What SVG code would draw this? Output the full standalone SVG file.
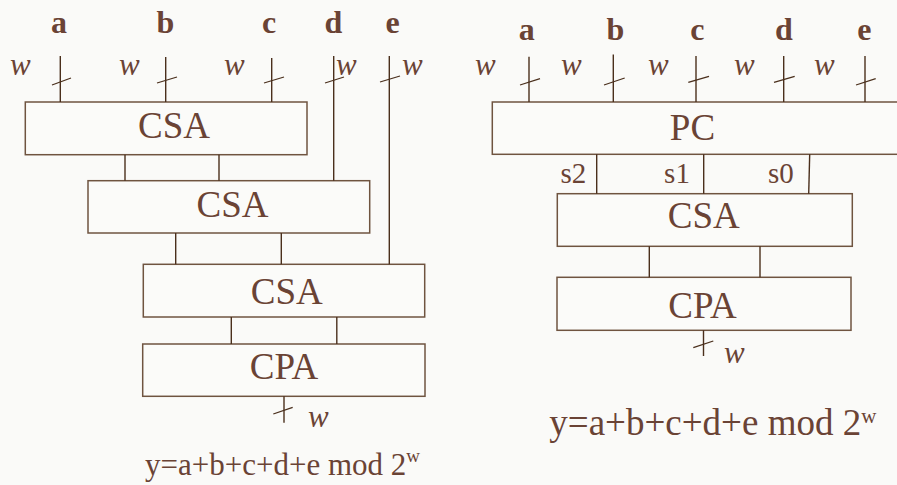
<svg xmlns="http://www.w3.org/2000/svg" width="897" height="485" viewBox="0 0 897 485">
  <style>
    .bg { fill: #fafaf8; }
    .box { fill: #fbfbf9; stroke: #6f5440; stroke-width: 1.5; }
    .wire { stroke: #4a2f1c; stroke-width: 1.4; fill: none; }
    .tick { stroke: #4a2f1c; stroke-width: 1.3; }
    .name { font-family: "Liberation Serif", "Times New Roman", serif; font-size: 37px; fill: #6a4335; text-anchor: middle; }
    .sig { font-family: "Liberation Serif", "Times New Roman", serif; font-size: 32px; font-weight: bold; fill: #6a4335; text-anchor: middle; }
    .width { font-family: "Liberation Serif", "Times New Roman", serif; font-size: 31px; font-style: italic; fill: #6a4335; }
    .sum { font-family: "Liberation Serif", "Times New Roman", serif; font-size: 29px; fill: #6a4335; text-anchor: middle; }
    .eq { font-family: "Liberation Serif", "Times New Roman", serif; fill: #6a4335; }
  </style>
  <rect class="bg" x="0" y="0" width="897" height="485"/>

  <!-- Left: CSA tree with carry-propagate adder -->
  <g id="inputs-left">
    <text class="sig" x="59" y="33">a</text>
    <text class="sig" x="165.5" y="33">b</text>
    <text class="sig" x="269" y="33">c</text>
    <text class="sig" x="333.5" y="33">d</text>
    <text class="sig" x="392.5" y="33">e</text>
    <text class="width" x="10" y="75">w</text>
    <text class="width" x="119" y="75">w</text>
    <text class="width" x="224" y="75">w</text>
    <text class="width" x="336" y="75">w</text>
    <text class="width" x="402" y="75">w</text>
  </g>

  <g id="csa1">
    <rect class="box" x="25.3" y="102" width="281.7" height="52.7"/>
    <text class="name" x="174" y="138">CSA</text>
  </g>
  <g id="csa2">
    <rect class="box" x="88" y="180.7" width="281.7" height="52.3"/>
    <text class="name" x="232.5" y="217">CSA</text>
  </g>
  <g id="csa3">
    <rect class="box" x="143.3" y="264.3" width="281.4" height="52.7"/>
    <text class="name" x="286.7" y="304">CSA</text>
  </g>
  <g id="cpa-left">
    <rect class="box" x="142.7" y="344" width="282.3" height="52.3"/>
    <text class="name" x="284" y="379.3">CPA</text>
  </g>
  <g id="out-left">
    <text class="width" x="308" y="427">w</text>
    <text class="eq" x="145" y="475" font-size="31px">y=a+b+c+d+e mod 2<tspan font-size="19px" dy="-13">w</tspan></text>
  </g>

  <!-- Right: parallel counter, CSA, carry-propagate adder -->
  <g id="inputs-right">
    <text class="sig" x="526.7" y="40">a</text>
    <text class="sig" x="615.3" y="40">b</text>
    <text class="sig" x="697.3" y="40">c</text>
    <text class="sig" x="784" y="40">d</text>
    <text class="sig" x="864.3" y="40">e</text>
    <text class="width" x="475" y="75">w</text>
    <text class="width" x="561" y="75">w</text>
    <text class="width" x="648" y="75">w</text>
    <text class="width" x="734" y="75">w</text>
    <text class="width" x="814" y="75">w</text>
  </g>

  <g id="pc">
    <rect class="box" x="492.3" y="102" width="420" height="52.3"/>
    <text class="name" x="692.5" y="140">PC</text>
    <text class="sum" x="573.3" y="183.3">s2</text>
    <text class="sum" x="677" y="183.3">s1</text>
    <text class="sum" x="780.8" y="183.3">s0</text>
  </g>
  <g id="csa-right">
    <rect class="box" x="557.3" y="193.7" width="295" height="52.6"/>
    <text class="name" x="703.8" y="228.3">CSA</text>
  </g>
  <g id="cpa-right">
    <rect class="box" x="557" y="277.3" width="294" height="53"/>
    <text class="name" x="702.5" y="318.3">CPA</text>
  </g>
  <g id="out-right">
    <text class="width" x="724" y="363">w</text>
    <text class="eq" x="549.3" y="435" font-size="37px">y=a+b+c+d+e mod 2<tspan font-size="21px" dy="-12">w</tspan></text>
  </g>

  <g id="connectors">
    <!-- left inputs -->
    <line class="wire" x1="60.3" y1="56" x2="60.3" y2="102"/>
    <line class="wire" x1="165.7" y1="57" x2="165.7" y2="102"/>
    <line class="wire" x1="271.7" y1="58" x2="271.7" y2="102"/>
    <line class="wire" x1="333.7" y1="56" x2="333.7" y2="180.7"/>
    <line class="wire" x1="389.3" y1="56" x2="389.3" y2="264.3"/>
    <line class="tick" x1="52" y1="85" x2="71" y2="78"/>
    <line class="tick" x1="157" y1="83" x2="177" y2="77"/>
    <line class="tick" x1="264" y1="83" x2="284" y2="77"/>
    <line class="tick" x1="325" y1="83" x2="344" y2="77"/>
    <line class="tick" x1="380" y1="82" x2="400" y2="76"/>
    <!-- left stage links -->
    <line class="wire" x1="125" y1="154.7" x2="125" y2="180.7"/>
    <line class="wire" x1="219" y1="154.7" x2="219" y2="180.7"/>
    <line class="wire" x1="175.7" y1="233" x2="175.7" y2="264.3"/>
    <line class="wire" x1="281.3" y1="233" x2="281.3" y2="264.3"/>
    <line class="wire" x1="231.3" y1="317" x2="231.3" y2="344"/>
    <line class="wire" x1="336.8" y1="317" x2="336.8" y2="344"/>
    <line class="wire" x1="284" y1="396.3" x2="284" y2="422.7"/>
    <line class="tick" x1="273.3" y1="414" x2="292.7" y2="407.3"/>

    <!-- right inputs -->
    <line class="wire" x1="529" y1="56.7" x2="529" y2="102"/>
    <line class="wire" x1="613.3" y1="54.5" x2="613.3" y2="102"/>
    <line class="wire" x1="696" y1="56" x2="696" y2="102"/>
    <line class="wire" x1="783.7" y1="56" x2="783.7" y2="102"/>
    <line class="wire" x1="865" y1="56" x2="865" y2="102"/>
    <line class="tick" x1="520" y1="85" x2="540" y2="78.7"/>
    <line class="tick" x1="604" y1="85" x2="624.7" y2="78"/>
    <line class="tick" x1="688.3" y1="82.3" x2="709" y2="76.3"/>
    <line class="tick" x1="774" y1="82.3" x2="794.7" y2="76.3"/>
    <line class="tick" x1="856" y1="85" x2="875.7" y2="78.7"/>
    <!-- right stage links -->
    <line class="wire" x1="596.7" y1="154.3" x2="596.7" y2="193.7"/>
    <line class="wire" x1="703.7" y1="154.3" x2="703.7" y2="193.7"/>
    <line class="wire" x1="809.7" y1="154.3" x2="808.7" y2="193.7"/>
    <line class="wire" x1="649.3" y1="246.3" x2="649.3" y2="277.3"/>
    <line class="wire" x1="760" y1="246.3" x2="760" y2="277.3"/>
    <line class="wire" x1="703.5" y1="330.3" x2="703.5" y2="356"/>
    <line class="tick" x1="693.3" y1="347.7" x2="713.3" y2="341"/>
  </g>
</svg>
